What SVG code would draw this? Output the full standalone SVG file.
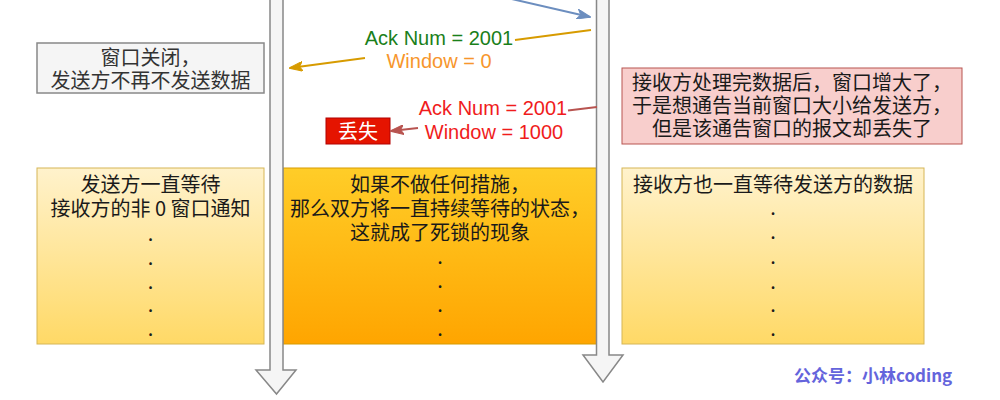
<svg xmlns="http://www.w3.org/2000/svg" width="1000" height="400" viewBox="0 0 1000 400">
  <style>
    .cjk { font-family: "Noto Sans CJK SC", "Noto Sans", sans-serif; font-size: 20px; fill: #1a1a1a; text-anchor: middle; }
    .lbl { font-family: "Liberation Sans", Arial, sans-serif; font-size: 20px; text-anchor: middle; }
    .shaft { fill: #f5f5f5; stroke: #888888; stroke-width: 1.5; }
  </style>
  <defs>
    <linearGradient id="gYellow" x1="0" y1="0" x2="0" y2="1">
      <stop offset="0" stop-color="#fff2cc"/>
      <stop offset="1" stop-color="#ffd966"/>
    </linearGradient>
    <linearGradient id="gOrange" x1="0" y1="0" x2="0" y2="1">
      <stop offset="0" stop-color="#ffcd28"/>
      <stop offset="1" stop-color="#ffa500"/>
    </linearGradient>
    <marker id="mBlue" viewBox="0 0 14 10" refX="13" refY="5" markerWidth="14" markerHeight="10" markerUnits="userSpaceOnUse" orient="auto">
      <path d="M0,0 L14,5 L0,10 L3.5,5 z" fill="#6c8ebf" stroke="#6c8ebf" stroke-width="1"/>
    </marker>
    <marker id="mGold" viewBox="0 0 14 10" refX="13" refY="5" markerWidth="14" markerHeight="10" markerUnits="userSpaceOnUse" orient="auto">
      <path d="M0,0 L14,5 L0,10 L3.5,5 z" fill="#d79b00" stroke="#d79b00" stroke-width="1"/>
    </marker>
    <marker id="mRed" viewBox="0 0 14 10" refX="13" refY="5" markerWidth="14" markerHeight="10" markerUnits="userSpaceOnUse" orient="auto">
      <path d="M0,0 L14,5 L0,10 L3.5,5 z" fill="#b85450" stroke="#b85450" stroke-width="1"/>
    </marker>
  </defs>
  <rect width="1000" height="400" fill="#ffffff"/>

  <!-- state boxes -->
  <g id="sender-closed">
    <rect x="37" y="43" width="227" height="50" fill="#f5f5f5" stroke="#888888" stroke-width="1.5"/>
    <text class="cjk" style="fill:#333333"><tspan x="150.5" y="64.5">窗口关闭，</tspan><tspan x="150.5" y="88">发送方不再不发送数据</tspan></text>
  </g>
  <g id="receiver-note">
    <rect x="622" y="68" width="340" height="76" fill="#f8cecc" stroke="#b85450" stroke-width="1"/>
    <text class="cjk"><tspan x="792" y="90">接收方处理完数据后，窗口增大了，</tspan><tspan x="792" y="113">于是想通告当前窗口大小给发送方，</tspan><tspan x="792" y="136">但是该通告窗口的报文却丢失了</tspan></text>
  </g>
  <g id="sender-wait">
    <rect x="37" y="168" width="227" height="176" fill="url(#gYellow)" stroke="#d6b656" stroke-width="1"/>
    <text class="cjk"><tspan x="150.5" y="192">发送方一直等待</tspan><tspan x="150.5" y="216">接收方的非 0 窗口通知</tspan><tspan x="150.5" y="241">.</tspan><tspan x="150.5" y="264.5">.</tspan><tspan x="150.5" y="288.5">.</tspan><tspan x="150.5" y="312">.</tspan><tspan x="150.5" y="335.5">.</tspan></text>
  </g>
  <g id="deadlock">
    <rect x="283" y="168" width="314" height="176" fill="url(#gOrange)" stroke="#d79b00" stroke-width="1"/>
    <text class="cjk"><tspan x="440" y="192">如果不做任何措施，</tspan><tspan x="440" y="216">那么双方将一直持续等待的状态，</tspan><tspan x="440" y="240">这就成了死锁的现象</tspan><tspan x="440" y="263.5">.</tspan><tspan x="440" y="288">.</tspan><tspan x="440" y="311.5">.</tspan><tspan x="440" y="335.5">.</tspan></text>
  </g>
  <g id="receiver-wait">
    <rect x="622" y="168" width="302" height="176" fill="url(#gYellow)" stroke="#d6b656" stroke-width="1"/>
    <text class="cjk"><tspan x="773" y="192">接收方也一直等待发送方的数据</tspan><tspan x="773" y="215">.</tspan><tspan x="773" y="238.5">.</tspan><tspan x="773" y="263.5">.</tspan><tspan x="773" y="288.5">.</tspan><tspan x="773" y="311.5">.</tspan><tspan x="773" y="335.5">.</tspan></text>
  </g>

  <!-- timelines -->
  <g id="sender-timeline">
    <path class="shaft" d="M270,-5 L283,-5 L283,370 L296,370 L276.5,394 L256,370 L270,370 Z"/>
  </g>
  <g id="receiver-timeline">
    <path class="shaft" d="M596.5,-5 L609,-5 L609,355 L623,355 L603,382 L583,355 L596.5,355 Z"/>
  </g>

  <g id="lost-tag">
    <rect x="326" y="118" width="64" height="26" fill="#e51400" stroke="#b20000" stroke-width="1"/>
    <text class="cjk" x="358" y="138.5" style="fill:#ffffff">丢失</text>
  </g>

  <!-- connectors -->
  <g id="connectors" fill="none" stroke-width="2">
    <path d="M503,-3 L590,17" stroke="#6c8ebf" marker-end="url(#mBlue)"/>
    <path d="M591,30 L515,40 M365,58 L290,68" stroke="#d79b00" marker-end="url(#mGold)"/>
    <path d="M597,107 L568,110.5 M418,128 L391,131" stroke="#b85450" marker-end="url(#mRed)"/>
  </g>

  <!-- connector labels -->
  <g id="labels">
    <text class="lbl"><tspan x="439" y="45" fill="#1a801a">Ack Num = 2001</tspan><tspan x="439" y="68" fill="#f7962c">Window = 0</tspan></text>
    <text class="lbl" fill="#f01c1c"><tspan x="493" y="115">Ack Num = 2001</tspan><tspan x="494" y="139">Window = 1000</tspan></text>
  </g>

  <text x="794" y="382" font-family="'Noto Sans CJK SC', 'Noto Sans', sans-serif" font-size="17" font-weight="bold" fill="#6464dc">公众号：小林coding</text>
</svg>
